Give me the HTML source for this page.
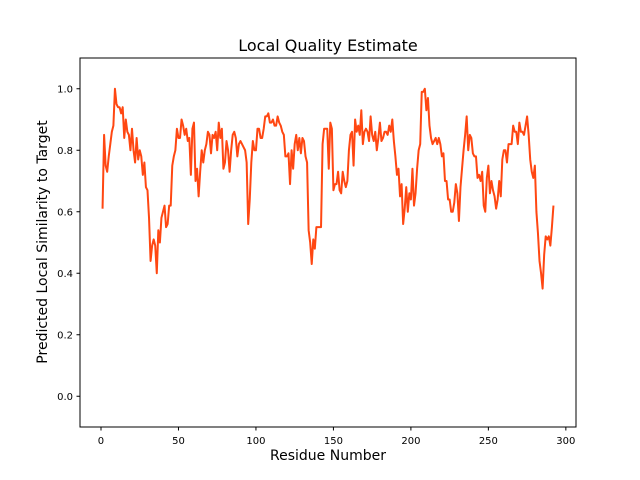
<!DOCTYPE html>
<html><head><meta charset="utf-8"><style>
body{margin:0;background:#fff}
svg{display:block;font-family:"DejaVu Sans","Liberation Sans",sans-serif}
</style></head><body>
<svg width="640" height="480">
<rect x="0" y="0" width="640" height="480" fill="#fff"/>
<text x="328" y="51" text-anchor="middle" font-size="16">Local Quality Estimate</text>
<g id="plot"></g>
<rect x="80" y="58" width="496" height="369" fill="none" stroke="#000" stroke-width="1"/>
<g id="xt"></g><g id="yt"></g>
<text x="328" y="460" text-anchor="middle" font-size="14">Residue Number</text>
<text transform="translate(47,242) rotate(-90)" text-anchor="middle" font-size="14">Predicted Local Similarity to Target</text>
</svg>
<script>
const scores=[0.61,0.85,0.75,0.73,0.78,0.82,0.86,0.88,1.00,0.95,0.94,0.94,0.92,0.94,0.84,0.90,0.86,0.85,0.80,0.87,0.80,0.76,0.84,0.77,0.80,0.78,0.72,0.76,0.68,0.67,0.58,0.44,0.49,0.51,0.49,0.40,0.54,0.50,0.58,0.60,0.62,0.55,0.56,0.62,0.62,0.75,0.78,0.80,0.87,0.84,0.84,0.90,0.88,0.85,0.87,0.83,0.84,0.72,0.87,0.89,0.70,0.74,0.65,0.73,0.80,0.76,0.80,0.82,0.86,0.85,0.79,0.85,0.84,0.86,0.80,0.89,0.84,0.87,0.74,0.76,0.83,0.80,0.73,0.80,0.85,0.86,0.84,0.78,0.82,0.83,0.82,0.81,0.80,0.76,0.56,0.64,0.76,0.83,0.80,0.80,0.87,0.87,0.84,0.84,0.87,0.91,0.91,0.92,0.89,0.89,0.90,0.88,0.88,0.91,0.89,0.88,0.86,0.85,0.78,0.78,0.79,0.69,0.80,0.74,0.82,0.85,0.80,0.84,0.79,0.84,0.83,0.78,0.76,0.54,0.50,0.43,0.51,0.48,0.55,0.55,0.55,0.55,0.82,0.87,0.87,0.87,0.74,0.89,0.87,0.67,0.69,0.69,0.73,0.67,0.66,0.73,0.70,0.68,0.70,0.80,0.85,0.86,0.75,0.90,0.86,0.88,0.85,0.93,0.82,0.86,0.87,0.86,0.83,0.91,0.85,0.83,0.86,0.80,0.84,0.89,0.83,0.84,0.86,0.86,0.85,0.88,0.86,0.90,0.83,0.78,0.72,0.74,0.65,0.69,0.56,0.61,0.68,0.60,0.66,0.64,0.74,0.62,0.66,0.74,0.80,0.82,0.99,0.99,1.00,0.93,0.97,0.88,0.84,0.82,0.83,0.84,0.82,0.84,0.82,0.78,0.79,0.70,0.70,0.64,0.64,0.60,0.60,0.63,0.69,0.66,0.57,0.68,0.74,0.80,0.85,0.91,0.80,0.85,0.84,0.79,0.78,0.78,0.71,0.72,0.70,0.73,0.62,0.60,0.71,0.75,0.66,0.70,0.67,0.65,0.61,0.64,0.70,0.65,0.77,0.80,0.80,0.76,0.82,0.82,0.82,0.88,0.86,0.86,0.82,0.89,0.86,0.86,0.85,0.88,0.91,0.85,0.77,0.73,0.71,0.75,0.60,0.53,0.44,0.40,0.35,0.46,0.52,0.51,0.52,0.49,0.55,0.62];
const xTicks=[0,50,100,150,200,250,300];
const yTicks=[0.0,0.2,0.4,0.6,0.8,1.0];
const xMin=-13.55,xMax=306.55,yMin=-0.1,yMax=1.1;
const L=80,R=576,T=58,B=427;
const sx=v=>L+(v-xMin)/(xMax-xMin)*(R-L);
const sy=v=>B-(v-yMin)/(yMax-yMin)*(B-T);
const NS='http://www.w3.org/2000/svg';
const plot=document.getElementById('plot');
const line=document.createElementNS(NS,'polyline');
line.setAttribute('points',scores.map((v,i)=>sx(i+1).toFixed(2)+','+sy(v).toFixed(2)).join(' '));
line.setAttribute('fill','none');line.setAttribute('stroke','#ff4712');line.setAttribute('stroke-width','2');line.setAttribute('stroke-linejoin','round');


plot.appendChild(line);
const xt=document.getElementById('xt');
xTicks.forEach(t=>{const x=sx(t);
const l=document.createElementNS(NS,'line');l.setAttribute('x1',x);l.setAttribute('x2',x);l.setAttribute('y1',B);l.setAttribute('y2',B+3.5);l.setAttribute('stroke','#000');


xt.appendChild(l);
const s=document.createElementNS(NS,'text');s.setAttribute('x',x);s.setAttribute('y',B+17);s.setAttribute('text-anchor','middle');s.setAttribute('font-size','10');s.textContent=t;


xt.appendChild(s);});
const yt=document.getElementById('yt');
yTicks.forEach(t=>{const y=sy(t);
const l=document.createElementNS(NS,'line');l.setAttribute('x1',L-3.5);l.setAttribute('x2',L);l.setAttribute('y1',y);l.setAttribute('y2',y);l.setAttribute('stroke','#000');


yt.appendChild(l);
const s=document.createElementNS(NS,'text');s.setAttribute('x',L-7);s.setAttribute('y',y+3.5);s.setAttribute('text-anchor','end');s.setAttribute('font-size','10');s.textContent=t.toFixed(1);


yt.appendChild(s);});
</script>
</body></html>
